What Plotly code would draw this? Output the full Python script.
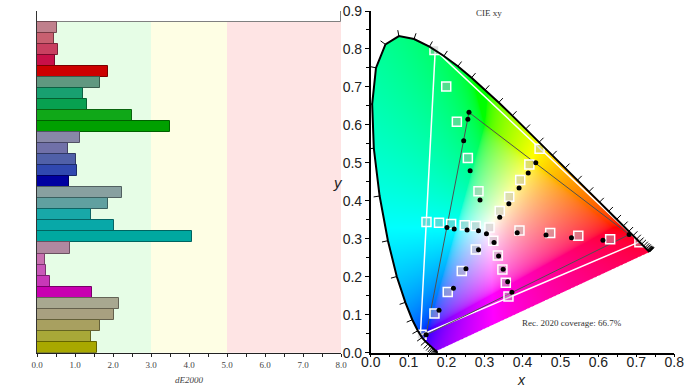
import base64, struct, zlib
import numpy as np
import plotly.graph_objects as go

# ---------------- data: left bar chart ----------------
patch_names = ["White",
               "Red 20%", "Red 40%", "Red 60%", "Red 80%", "Red 100%",
               "Green 20%", "Green 40%", "Green 60%", "Green 80%", "Green 100%",
               "Blue 20%", "Blue 40%", "Blue 60%", "Blue 80%", "Blue 100%",
               "Cyan 20%", "Cyan 40%", "Cyan 60%", "Cyan 80%", "Cyan 100%",
               "Magenta 20%", "Magenta 40%", "Magenta 60%", "Magenta 80%", "Magenta 100%",
               "Yellow 20%", "Yellow 40%", "Yellow 60%", "Yellow 80%", "Yellow 100%"]
de2000 = [8.0,
          0.53, 0.44, 0.54, 0.48, 1.86,
          1.67, 1.20, 1.31, 2.51, 3.51,
          1.12, 0.81, 1.02, 1.04, 0.85,
          2.23, 1.86, 1.43, 2.02, 4.07,
          0.88, 0.20, 0.24, 0.33, 1.45,
          2.15, 2.02, 1.67, 1.41, 1.57]
bar_colors = ["#ffffff",
              "#c0808c", "#c86070", "#c84060", "#c81048", "#cc0000",
              "#609880", "#18a070", "#08a050", "#10a818", "#00a000",
              "#8888a8", "#7070a8", "#5060a8", "#3048b0", "#0000a0",
              "#88a0a0", "#60a0a0", "#18a8a8", "#08a8a8", "#00a8a0",
              "#b088a0", "#c870b0", "#c858b8", "#c838b8", "#c800b0",
              "#a8a890", "#a8a080", "#a8a060", "#a8a838", "#a8a800"]
band_edges = [0, 3, 5, 8]
band_colors = ["#e6fde6", "#fefee4", "#fee4e4"]

# ---------------- data: CIE xy ----------------
locus_nm = list(range(380, 705, 5))
locus_x = [0.1741, 0.1740, 0.1738, 0.1736, 0.1733, 0.1730, 0.1726, 0.1721, 0.1714, 0.1703,
           0.1689, 0.1669, 0.1644, 0.1611, 0.1566, 0.1510, 0.1440, 0.1355, 0.1241, 0.1096,
           0.0913, 0.0687, 0.0454, 0.0235, 0.0082, 0.0039, 0.0139, 0.0389, 0.0743, 0.1142,
           0.1547, 0.1929, 0.2296, 0.2658, 0.3016, 0.3373, 0.3731, 0.4087, 0.4441, 0.4788,
           0.5125, 0.5448, 0.5752, 0.6029, 0.6270, 0.6482, 0.6658, 0.6801, 0.6915, 0.7006,
           0.7079, 0.7140, 0.7190, 0.7230, 0.7260, 0.7283, 0.7300, 0.7311, 0.7320, 0.7327,
           0.7334, 0.7340, 0.7344, 0.7346, 0.7347]
locus_y = [0.0050, 0.0050, 0.0049, 0.0049, 0.0048, 0.0048, 0.0048, 0.0048, 0.0051, 0.0058,
           0.0069, 0.0086, 0.0109, 0.0138, 0.0177, 0.0227, 0.0297, 0.0399, 0.0578, 0.0868,
           0.1327, 0.2007, 0.2950, 0.4127, 0.5384, 0.6548, 0.7502, 0.8120, 0.8338, 0.8262,
           0.8059, 0.7816, 0.7543, 0.7243, 0.6923, 0.6589, 0.6245, 0.5896, 0.5547, 0.5202,
           0.4866, 0.4544, 0.4242, 0.3965, 0.3725, 0.3514, 0.3340, 0.3197, 0.3083, 0.2993,
           0.2920, 0.2859, 0.2809, 0.2770, 0.2740, 0.2717, 0.2700, 0.2689, 0.2680, 0.2673,
           0.2666, 0.2660, 0.2656, 0.2654, 0.2653]

rec2020_x = [0.708, 0.170, 0.131]
rec2020_y = [0.292, 0.797, 0.046]
gamut_x = [0.681, 0.259, 0.146]
gamut_y = [0.311, 0.633, 0.047]

target_x = [0.313,
            0.392, 0.473, 0.547, 0.631, 0.708,
            0.284, 0.256, 0.227, 0.199, 0.168,
            0.277, 0.240, 0.203, 0.168, 0.134,
            0.277, 0.248, 0.212, 0.180, 0.147,
            0.323, 0.335, 0.347, 0.356, 0.363,
            0.340, 0.365, 0.394, 0.418, 0.445]
target_y = [0.330,
            0.322, 0.315, 0.308, 0.299, 0.291,
            0.425, 0.513, 0.608, 0.701, 0.797,
            0.272, 0.215, 0.160, 0.103, 0.047,
            0.334, 0.336, 0.339, 0.342, 0.344,
            0.295, 0.256, 0.219, 0.184, 0.148,
            0.373, 0.411, 0.455, 0.496, 0.537]
meas_x = [0.305,
          0.386, 0.462, 0.529, 0.612, 0.681,
          0.288, 0.262, 0.245, 0.256, 0.259,
          0.284, 0.251, 0.218, 0.180, 0.146,
          0.284, 0.254, 0.220, 0.201,
          0.325, 0.337, 0.349, 0.361, 0.372,
          0.340, 0.364, 0.391, 0.415, 0.435]
meas_y = [0.313,
          0.316, 0.310, 0.303, 0.296, 0.311,
          0.402, 0.479, 0.558, 0.615, 0.633,
          0.271, 0.221, 0.170, 0.112, 0.047,
          0.321, 0.323, 0.326, 0.330,
          0.290, 0.255, 0.220, 0.187, 0.159,
          0.357, 0.392, 0.434, 0.473, 0.500]

# ---------------- chromaticity background image ----------------
XR, YR = 0.8, 0.9
W, H = 480, 540
SS = 2
lx = np.array(locus_x); ly = np.array(locus_y)

def inside(px, py):
    res = np.zeros(px.shape, dtype=bool)
    n = len(lx)
    j = n - 1
    for i in range(n):
        xi, yi, xj, yj = lx[i], ly[i], lx[j], ly[j]
        cond = ((yi > py) != (yj > py))
        with np.errstate(divide="ignore", invalid="ignore"):
            xint = (xj - xi) * (py - yi) / (yj - yi) + xi
        res ^= cond & (px < xint)
        j = i
    return res

gx = (np.arange(W * SS) + 0.5) / (W * SS) * XR
gy = YR - (np.arange(H * SS) + 0.5) / (H * SS) * YR
GX, GY = np.meshgrid(gx, gy)
mask = inside(GX, GY).astype(float)
alpha = mask.reshape(H, SS, W, SS).mean(axis=(1, 3))

cx = (np.arange(W) + 0.5) / W * XR
cy = YR - (np.arange(H) + 0.5) / H * YR
CX, CY = np.meshgrid(cx, cy)
CY = np.maximum(CY, 1e-4)
X = CX / CY
Y = np.ones_like(X)
Z = (1 - CX - CY) / CY
R = 3.2406 * X - 1.5372 * Y - 0.4986 * Z
G = -0.9689 * X + 1.8758 * Y + 0.0415 * Z
B = 0.0557 * X - 0.2040 * Y + 1.0570 * Z
rgb = np.stack([R, G, B], axis=-1)
mn = np.minimum(rgb.min(axis=-1, keepdims=True), 0)
rgb = rgb - 0.5 * mn
rgb = np.clip(rgb, 0, None)
rgb = rgb / np.maximum(rgb.max(axis=-1, keepdims=True), 1e-9)
rgb = np.where(rgb <= 0.0031308, 12.92 * rgb, 1.055 * np.power(rgb, 1 / 2.4) - 0.055)
rgba = np.zeros((H, W, 4), dtype=np.uint8)
rgba[..., :3] = np.clip(rgb * 255 + 0.5, 0, 255).astype(np.uint8)
rgba[..., 3] = np.clip(alpha * 255 + 0.5, 0, 255).astype(np.uint8)

def make_png(arr):
    h, w, _ = arr.shape
    raw = b"".join(b"\x00" + arr[r].tobytes() for r in range(h))
    def chunk(t, d):
        c = struct.pack(">I", len(d)) + t + d
        return c + struct.pack(">I", zlib.crc32(t + d) & 0xffffffff)
    return (b"\x89PNG\r\n\x1a\n" + chunk(b"IHDR", struct.pack(">IIBBBBB", w, h, 8, 6, 0, 0, 0))
            + chunk(b"IDAT", zlib.compress(raw, 9)) + chunk(b"IEND", b""))

img_src = "data:image/png;base64," + base64.b64encode(make_png(rgba)).decode()

# wavelength ticks along the locus
tick_len = 0.016
tx, ty = [], []
n = len(lx)
for i in range(n):
    a = max(i - 1, 0); b = min(i + 1, n - 1)
    dx, dy = lx[b] - lx[a], ly[b] - ly[a]
    L = np.hypot(dx, dy)
    if L == 0:
        continue
    nx, ny = -dy / L, dx / L
    tx += [lx[i], lx[i] + nx * tick_len, None]
    ty += [ly[i], ly[i] + ny * tick_len, None]

# ---------------- figure ----------------
def darken(hexc, f=0.6):
    h = hexc.lstrip("#")
    r, g, b = (int(h[k:k + 2], 16) for k in (0, 2, 4))
    return "rgb(%d,%d,%d)" % (r * f, g * f, b * f)

line_cols = ["#808080"] + [darken(c) for c in bar_colors[1:]]

fig = go.Figure()
fig.add_trace(go.Bar(x=de2000, y=patch_names, orientation="h",
                     marker=dict(color=bar_colors, line=dict(color=line_cols, width=1)),
                     xaxis="x", yaxis="y", showlegend=False, hoverinfo="x+y", cliponaxis=False))

fig.add_trace(go.Scatter(x=rec2020_x + rec2020_x[:1], y=rec2020_y + rec2020_y[:1], mode="lines",
                         line=dict(color="white", width=1.5), xaxis="x2", yaxis="y2", showlegend=False))
fig.add_trace(go.Scatter(x=gamut_x + gamut_x[:1], y=gamut_y + gamut_y[:1], mode="lines",
                         line=dict(color="#505050", width=1), xaxis="x2", yaxis="y2", showlegend=False))
fig.add_trace(go.Scatter(x=target_x, y=target_y, mode="markers",
                         marker=dict(symbol="square", size=9, color="rgba(185,185,185,0.45)",
                                     line=dict(color="white", width=1.5)),
                         xaxis="x2", yaxis="y2", showlegend=False))
fig.add_trace(go.Scatter(x=meas_x, y=meas_y, mode="markers",
                         marker=dict(size=5, color="black"),
                         xaxis="x2", yaxis="y2", showlegend=False))
fig.add_trace(go.Scatter(x=tx, y=ty, mode="lines", line=dict(color="black", width=1),
                         xaxis="x2", yaxis="y2", showlegend=False, hoverinfo="skip"))
fig.add_trace(go.Scatter(x=locus_x, y=locus_y, mode="lines", line=dict(color="black", width=2),
                         xaxis="x2", yaxis="y2", showlegend=False, hoverinfo="skip"))

shapes = []
for k in range(3):
    shapes.append(dict(type="rect", xref="x", yref="y domain", x0=band_edges[k], x1=band_edges[k + 1],
                       y0=0, y1=1, fillcolor=band_colors[k], line=dict(width=0), layer="below"))

ydom = [1 - 352.7 / 390, 1 - 11 / 390]
serif = "Liberation Serif"
sans = "Liberation Sans"

def ann(text, px, py, font):
    return dict(text=text, x=px / 693, y=1 - py / 390, xref="paper", yref="paper",
                xanchor="center", yanchor="middle", showarrow=False, font=font)

fig.update_layout(
    width=693, height=390, margin=dict(l=0, r=0, t=0, b=0, autoexpand=False),
    paper_bgcolor="white", plot_bgcolor="white", bargap=0,
    shapes=shapes,
    images=[dict(source=img_src, xref="x2", yref="y2", x=0, y=YR, sizex=XR, sizey=YR,
                 sizing="stretch", layer="below", xanchor="left", yanchor="top")],
    xaxis=dict(domain=[37 / 693, 341 / 693], range=[0, 8], anchor="y", showgrid=False, zeroline=False,
               automargin=False,
               showline=True, linecolor="#222", linewidth=1, ticks="outside", ticklen=3, tickcolor="#222",
               dtick=1, tickformat=".1f", tickfont=dict(family=serif, size=9, color="#444"),
               minor=dict(dtick=0.5, ticks="outside", ticklen=3, tickcolor="#222")),
    yaxis=dict(domain=ydom, type="category", autorange="reversed", anchor="x", showticklabels=False,
               automargin=False,
               showgrid=False, zeroline=False, showline=True, linecolor="#333", linewidth=1, ticks=""),
    xaxis2=dict(domain=[370.7 / 693, 674.3 / 693], range=[0, 0.8], anchor="y2", showgrid=False,
                automargin=False,
                zeroline=False, showline=True, linecolor="black", linewidth=1.5, ticks="outside",
                ticklen=3, tickcolor="black", dtick=0.1, tickformat=".1f", ticklabelstandoff=-7,
                tickfont=dict(family=sans, size=14, color="#222"),
                minor=dict(dtick=0.05, ticks="outside", ticklen=3, tickcolor="black")),
    yaxis2=dict(domain=ydom, range=[0, 0.9], anchor="x2", showgrid=False, zeroline=False,
                automargin=False,
                showline=True, linecolor="black", linewidth=1.5, ticks="outside", ticklen=4,
                tickcolor="black", dtick=0.1, tickformat=".1f",
                tickfont=dict(family=sans, size=14, color="#222"),
                minor=dict(dtick=0.05, ticks="outside", ticklen=3, tickcolor="black")),
    annotations=[
        ann("<i>dE2000</i>", 189, 380, dict(family=serif, size=9, color="#444")),
        ann("CIE xy", 489, 13, dict(family=serif, size=9, color="#333")),
        ann("Rec. 2020 coverage: 66.7%", 571.7, 322.7, dict(family=serif, size=9, color="#333")),
        ann("<i>x</i>", 521.7, 380, dict(family=sans, size=14, color="#222")),
        ann("<i>y</i>", 337.7, 182.7, dict(family=sans, size=15, color="#222")),
    ],
)

fig.write_html("out.html", config={"displayModeBar": False},
               post_script="document.body.style.margin='0';document.body.style.overflow='hidden';")
